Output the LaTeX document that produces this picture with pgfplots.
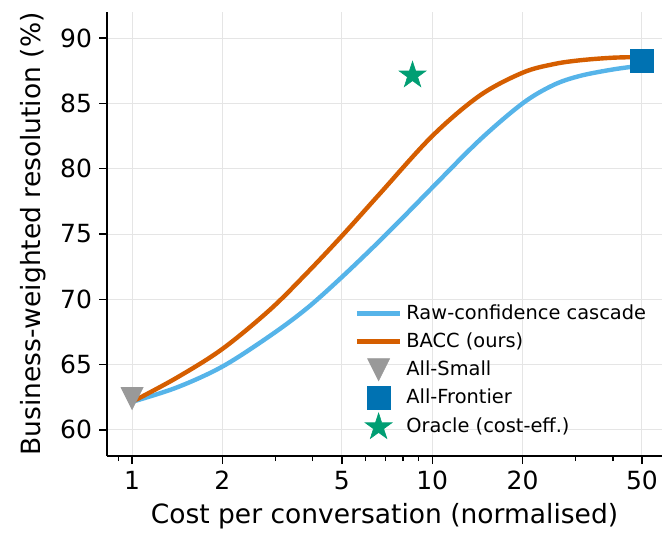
\documentclass[border=0pt]{standalone}
\usepackage{fontspec}
\setmainfont{DejaVu Sans}
\usepackage{pgfplots}
\pgfplotsset{compat=1.18}
\definecolor{cblue}{HTML}{56B4E9}
\definecolor{corange}{HTML}{D55E00}
\definecolor{cgray}{HTML}{999999}
\definecolor{cdblue}{HTML}{0072B2}
\definecolor{cgreen}{HTML}{009E73}
\pgfplotsset{
  lineleg/.style={legend image code/.code={\draw[##1] (0cm,0cm) -- (0.76cm,0cm);}},
  markleg/.style={legend image code/.code={\draw[mark repeat=1,mark phase=1,##1] plot coordinates {(0.38cm,0cm)};}},
}
\pgfdeclareplotmark{tridown}{%
  \pgfpathmoveto{\pgfqpoint{-\pgfplotmarksize}{\pgfplotmarksize}}%
  \pgfpathlineto{\pgfqpoint{\pgfplotmarksize}{\pgfplotmarksize}}%
  \pgfpathlineto{\pgfqpoint{0pt}{-\pgfplotmarksize}}%
  \pgfpathclose\pgfusepathqfillstroke}
\pgfdeclareplotmark{fstar}{%
  \pgfpathmoveto{\pgfqpointpolar{90}{\pgfplotmarksize}}%
  \pgfpathlineto{\pgfqpointpolar{126}{0.382\pgfplotmarksize}}%
  \pgfpathlineto{\pgfqpointpolar{162}{\pgfplotmarksize}}%
  \pgfpathlineto{\pgfqpointpolar{198}{0.382\pgfplotmarksize}}%
  \pgfpathlineto{\pgfqpointpolar{234}{\pgfplotmarksize}}%
  \pgfpathlineto{\pgfqpointpolar{270}{0.382\pgfplotmarksize}}%
  \pgfpathlineto{\pgfqpointpolar{306}{\pgfplotmarksize}}%
  \pgfpathlineto{\pgfqpointpolar{342}{0.382\pgfplotmarksize}}%
  \pgfpathlineto{\pgfqpointpolar{18}{\pgfplotmarksize}}%
  \pgfpathlineto{\pgfqpointpolar{54}{0.382\pgfplotmarksize}}%
  \pgfpathclose\pgfusepathqfillstroke}
\begin{document}
\begin{tikzpicture}
\begin{semilogxaxis}[
  scale only axis, width=277.5pt, height=222pt,
  xmin=0.825, xmax=58.3, ymin=58, ymax=92,
  axis x line*=bottom, axis y line*=left,
  axis line style={line width=1pt, -},
  xtick={1,2,5,10,20,50}, xticklabels={1,2,5,10,20,50},
  minor xtick={0.9,3,4,6,7,8,9,30,40},
  ytick={60,65,...,90},
  tick align=outside,
  major tick length=4pt, minor tick length=2.5pt,
  every tick/.style={black, line width=0.7pt},
  grid=major, major grid style={black!10, line width=0.5pt},
  ticklabel style={font=\fontsize{12.5}{15}\selectfont},
  /pgf/number format/assume math mode=true,
  xlabel={Cost per conversation (normalised)},
  ylabel={Business-weighted resolution (\%)},
  label style={font=\fontsize{13.25}{16}\selectfont},
  legend style={at={(rel axis cs:0.99,0.36)}, anchor=north east, draw=none, fill=none,
    font=\fontsize{9.7}{11}\selectfont, row sep=1.2pt},
  legend cell align=left,
  clip=false,
]
\addplot[cblue, line width=2.2pt, smooth, tension=0.55, lineleg] coordinates {
  (1,62.15) (1.41,63.25) (2,64.85) (2.88,67.2) (3.82,69.3) (5,71.7) (6.7,74.5) (8.55,76.95)
  (10,78.55) (14.4,82.2) (20,85.0) (25.3,86.4) (31,87.1) (40,87.6) (50,87.9)};
\addlegendentry{Raw-confidence cascade}
\addplot[corange, line width=2.2pt, smooth, tension=0.55, lineleg] coordinates {
  (1,62.15) (1.41,64.0) (2,66.2) (2.88,69.2) (3.82,72.0) (5,74.85) (6.7,78.1)
  (10,82.5) (14.4,85.6) (20,87.35) (25.3,88.0) (31,88.3) (40,88.5) (50,88.55)};
\addlegendentry{BACC (ours)}
\addplot[only marks, mark=tridown, mark size=5.5pt, color=cgray, mark options={line width=0.3pt}, markleg]
  coordinates {(1,62.4)};
\addlegendentry{All-Small}
\addplot[only marks, mark=square*, mark size=5.75pt, color=cdblue, mark options={line width=0.3pt}, markleg]
  coordinates {(50,88.3)};
\addlegendentry{All-Frontier}
\addplot[only marks, mark=fstar, mark size=7pt, color=cgreen, mark options={line width=0.3pt}, markleg]
  coordinates {(8.6,87.15)};
\addlegendentry{Oracle (cost-eff.)}
\end{semilogxaxis}
\pgfresetboundingbox
\useasboundingbox ([shift={(-53.5pt,-42.5pt)}]current axis.south west) rectangle ([shift={(0pt,6pt)}]current axis.north east);
\end{tikzpicture}
\end{document}
